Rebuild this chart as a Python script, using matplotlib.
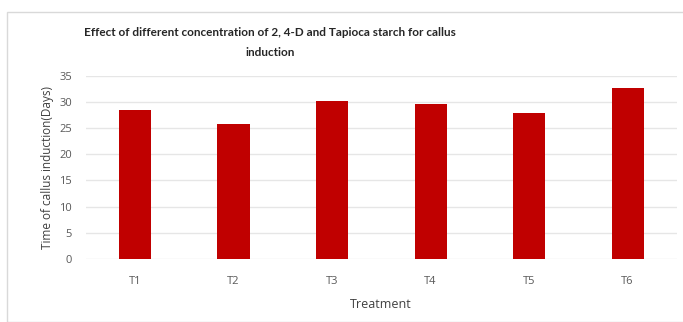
import numpy as np
import matplotlib.pyplot as plt
from matplotlib.patches import Rectangle

# Data
treatments = ['T1', 'T2', 'T3', 'T4', 'T5', 'T6']
days = [28.4, 25.7, 30.2, 29.6, 27.8, 32.6]
yticks = [0, 5, 10, 15, 20, 25, 30, 35]

plt.rcParams['font.family'] = ['Open Sans', 'DejaVu Sans']

fig = plt.figure(figsize=(6.83, 3.22), dpi=100)
ax = fig.add_axes([0.1255, 0.1957, 0.8655, 0.5693])

# outer chart frame
fig.patches.append(Rectangle((7 / 683, 0.0), 1.0, 1 - 12 / 322, transform=fig.transFigure,
                             fill=False, edgecolor='#d9d9d9', linewidth=1.0))

x = np.arange(len(treatments))
ax.bar(x, days, width=0.325, color='#c00000', zorder=3)

ax.set_xlim(-0.5, len(treatments) - 0.5)
ax.set_ylim(0, 35)
ax.set_yticks(yticks)
ax.set_xticks(x)
ax.set_xticklabels(treatments)
ax.yaxis.grid(True, color='#e6e6e6', linewidth=1.0, zorder=0)
ax.set_axisbelow(True)
for s in ax.spines.values():
    s.set_visible(False)
ax.tick_params(axis='both', length=0, labelsize=8, colors='#595959')
ax.tick_params(axis='x', pad=12)
ax.tick_params(axis='y', pad=10)

ax.set_ylabel('Time of callus induction(Days)', fontsize=8.5, color='#404040', labelpad=4)
ax.set_xlabel('Treatment', fontsize=9, color='#404040', labelpad=8)

title_font = ['Lato', 'DejaVu Sans']
fig.text(270 / 683, 1 - 33 / 322, 'Effect of different concentration of 2, 4-D and Tapioca starch for callus',
         ha='center', va='center', fontsize=8.5, fontweight='bold', color='#262626', family=title_font)
fig.text(270 / 683, 1 - 52 / 322, 'induction',
         ha='center', va='center', fontsize=8.5, fontweight='bold', color='#262626', family=title_font)

fig.savefig('out.png', dpi=100)
